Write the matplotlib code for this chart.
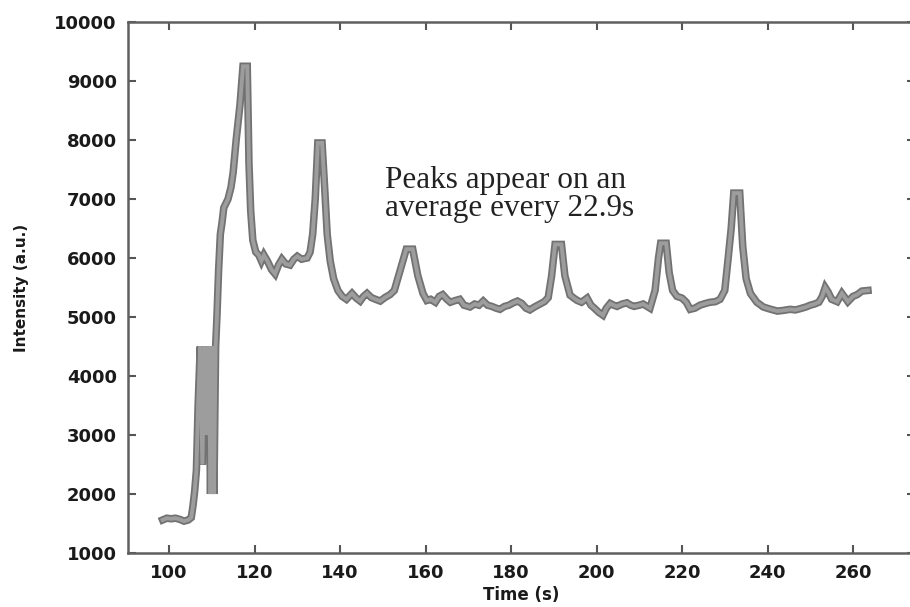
import numpy as np
from matplotlib import pyplot as plt

# intensity trace (time in s, intensity in a.u.)
time = [98.5, 99.5, 100.5, 101.5, 102.5, 103.5, 104.5, 105.2, 105.6, 106.0,
        106.4, 106.8, 107.3, 107.8, 108.3, 108.8, 109.3, 109.7, 110.1, 110.5,
        110.9, 111.2, 111.6, 112.0, 112.4, 112.8, 113.8, 114.5, 115.0, 115.7,
        116.6, 117.3, 118.3, 118.7, 119.1, 119.6, 120.3, 121.0, 121.6, 122.2,
        123.0, 124.0, 124.8, 125.6, 126.4, 127.3, 128.3, 129.2, 130.0, 131.0,
        132.3, 133.0, 133.6, 134.2, 134.8, 135.8, 136.4, 137.0, 137.7, 138.5,
        139.5, 140.5, 141.5, 142.8, 143.8, 144.7, 145.5, 146.3, 147.3, 148.3,
        149.4, 150.5, 151.7, 152.7, 153.5, 154.3, 155.5, 157.0, 158.2, 159.4,
        160.3, 161.2, 162.3, 163.2, 164.0, 165.0, 165.8, 167.0, 168.0, 169.0,
        170.4, 171.5, 172.5, 173.5, 174.5, 175.5, 176.5, 177.4, 178.5, 179.5,
        180.5, 181.5, 182.5, 183.5, 184.4, 185.5, 186.8, 187.8, 188.7, 189.5,
        190.3, 191.8, 192.6, 193.8, 194.7, 195.5, 196.5, 197.8, 198.7, 199.5,
        200.5, 201.5, 202.3, 203.2, 204.0, 204.8, 206.0, 207.1, 208.0, 208.8,
        210.0, 210.9, 211.8, 212.5, 213.7, 214.5, 215.0, 216.3, 217.0, 217.8,
        218.8, 220.0, 221.0, 221.9, 223.0, 224.2, 225.5, 226.6, 227.8, 228.9,
        230.0, 230.8, 231.5, 232.1, 233.5, 234.2, 235.0, 236.0, 237.5, 239.0,
        240.3, 241.3, 242.3, 243.5, 245.3, 246.5, 247.6, 249.0, 250.0, 251.0,
        252.0, 252.8, 253.5, 254.2, 255.0, 256.3, 257.4, 258.2, 258.8, 260.0,
        261.0, 262.1, 263.5]
intensity = [1560, 1590, 1580, 1590, 1570, 1540, 1560, 1600, 1800, 2050,
             2400, 3500, 4500, 2500, 4500, 3000, 4500, 2000, 4500, 2000,
             4500, 5000, 5800, 6400, 6600, 6850, 7000, 7200, 7450, 8000,
             8600, 9250, 9250, 7600, 6800, 6300, 6100, 6050, 5950, 6050,
             5950, 5800, 5730, 5880, 5980, 5900, 5880, 5980, 6030, 5980,
             6000, 6100, 6400, 7000, 7950, 7950, 7200, 6400, 5950, 5650,
             5450, 5350, 5300, 5400, 5320, 5270, 5350, 5400, 5330, 5300,
             5270, 5330, 5380, 5450, 5650, 5850, 6150, 6150, 5700, 5400,
             5280, 5300, 5250, 5350, 5380, 5300, 5250, 5280, 5300, 5200,
             5170, 5220, 5200, 5270, 5200, 5180, 5150, 5130, 5180, 5200,
             5240, 5270, 5230, 5150, 5120, 5170, 5220, 5260, 5330, 5700,
             6230, 6230, 5700, 5370, 5320, 5280, 5250, 5320, 5200, 5150,
             5080, 5030, 5150, 5230, 5200, 5180, 5220, 5240, 5200, 5180,
             5200, 5220, 5180, 5150, 5450, 6000, 6250, 6250, 5750, 5450,
             5350, 5320, 5250, 5130, 5150, 5200, 5230, 5250, 5260, 5300,
             5450, 6000, 6500, 7100, 7100, 6200, 5650, 5400, 5250, 5170,
             5140, 5120, 5100, 5110, 5130, 5120, 5140, 5170, 5200, 5220,
             5250, 5350, 5500, 5420, 5300, 5260, 5400, 5320, 5260, 5350,
             5380, 5440, 5450]

xticks = [100, 120, 140, 160, 180, 200, 220, 240, 260]
yticks = [1000, 2000, 3000, 4000, 5000, 6000, 7000, 8000, 9000, 10000]
note = "Peaks appear on an\naverage every 22.9s"

fig = plt.figure(figsize=(9.1, 6.07), dpi=100)
ax = fig.add_axes([128/910, 54/607, 787/910, 531/607])

# thick grey trace with a darker rim
ax.plot(time, intensity, color="#727272", lw=5.4, solid_joinstyle="miter", zorder=2)
ax.plot(time, intensity, color="#9d9d9d", lw=2.8, solid_joinstyle="miter", zorder=3)

ax.set_xlim(90.4, 274.5)
ax.set_ylim(1000, 10000)
ax.set_xticks(xticks)
ax.set_yticks(yticks)
ax.tick_params(direction="in", length=6, width=1.5, color="#555555",
               top=True, right=True, labelsize=13, pad=8)
for lab in ax.get_xticklabels() + ax.get_yticklabels():
    lab.set_fontweight("bold")
    lab.set_family("DejaVu Sans")
    lab.set_color("#1a1a1a")
for sp in ax.spines.values():
    sp.set_color("#606060")
    sp.set_linewidth(1.8)

ax.set_xlabel("Time (s)", fontsize=12, fontweight="bold", family="DejaVu Sans",
              color="#1a1a1a", labelpad=3)
ax.set_ylabel("Intensity (a.u.)", fontsize=11, fontweight="bold", family="DejaVu Sans",
              color="#1a1a1a", labelpad=18)

ax.text(150.5, 7080, note, family="Liberation Serif", fontsize=22.5, color="#222222",
        va="center", ha="left", linespacing=0.95)

plt.savefig("out.png", dpi=100)
